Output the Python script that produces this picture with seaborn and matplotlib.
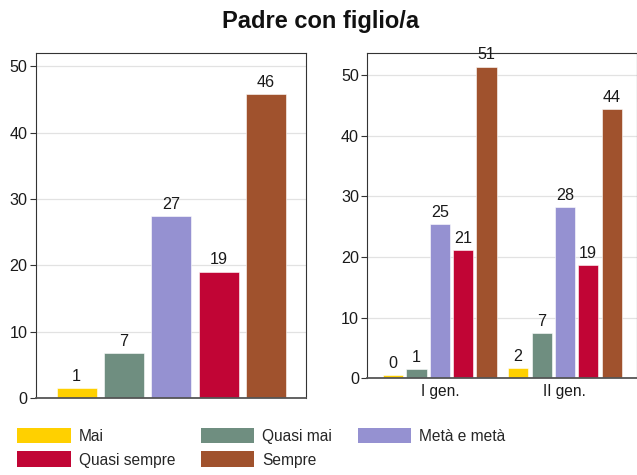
import pandas as pd
import matplotlib.pyplot as plt
import seaborn as sns
from matplotlib.patches import Patch

# ==========================================
# DATA (percentages)
# ==========================================
RESPONSES = ['Mai', 'Quasi mai', 'Metà e metà', 'Quasi sempre', 'Sempre']
TOTAL_PCT = [1.46, 6.74, 27.45, 19.05, 45.8]

GENERATIONS = ['I gen.', 'II gen.']
GEN1_PCT = [0.48, 1.45, 25.4, 21.15, 51.4]
GEN2_PCT = [1.65, 7.47, 28.2, 18.7, 44.35]

COLORS = ['#FFD000', '#6F8E80', '#9591D1', '#C10535', '#A0522D']
TITLE = 'Padre con figlio/a'

sns.set_theme(style='white')
plt.rcParams['font.family'] = ['Liberation Sans', 'DejaVu Sans']

palette = dict(zip(RESPONSES, COLORS))

total_df = pd.DataFrame({'risposta': RESPONSES, 'pct': TOTAL_PCT})
gen_df = pd.DataFrame({
    'gen': [g for g in GENERATIONS for _ in RESPONSES],
    'risposta': RESPONSES * 2,
    'pct': GEN1_PCT + GEN2_PCT,
})


def style_axes(ax):
    ax.yaxis.grid(True, color='#E2E2E2', linewidth=0.9)
    ax.set_axisbelow(True)
    for side in ['left', 'top', 'right']:
        ax.spines[side].set_visible(True)
        ax.spines[side].set_color('#333333')
        ax.spines[side].set_linewidth(0.8)
    ax.spines['bottom'].set_color('#555555')
    ax.spines['bottom'].set_linewidth(1.3)
    ax.tick_params(axis='y', left=True, length=4, width=0.8, color='#333333',
                   labelsize=11.6, pad=2, labelcolor='#1a1a1a')
    ax.tick_params(axis='x', bottom=False, length=0, labelsize=11.2, pad=4,
                   labelcolor='#1a1a1a')
    ax.set_xlabel('')
    ax.set_ylabel('')


fig = plt.figure(figsize=(6.37, 4.75), dpi=100)

# --- left panel: overall ---
ax1 = fig.add_axes([0.0565, 0.1621, 0.4239, 0.7263])
sns.barplot(data=total_df, x='risposta', y='pct', hue='risposta',
            palette=palette, saturation=1, width=0.845, legend=False, ax=ax1,
            edgecolor='white', linewidth=0.4)
for cont in ax1.containers:
    ax1.bar_label(cont, fmt='%.0f', padding=3, fontsize=11.6, color='#1a1a1a')
ax1.set_ylim(0, 52)
ax1.set_xlim(-0.86, 4.85)
ax1.set_yticks([0, 10, 20, 30, 40, 50])
ax1.set_xticks([])
style_axes(ax1)

# --- right panel: by generation ---
ax2 = fig.add_axes([0.5766, 0.2036, 0.4229, 0.6842])
sns.barplot(data=gen_df, x='gen', y='pct', hue='risposta', hue_order=RESPONSES,
            palette=palette, saturation=1, width=0.933, gap=0.14, legend=False,
            ax=ax2, edgecolor='white', linewidth=0.4)
for cont in ax2.containers:
    ax2.bar_label(cont, fmt='%.0f', padding=3, fontsize=11.6, color='#1a1a1a',
                  clip_on=False)
ax2.set_ylim(0, 53.6)
ax2.set_xlim(-0.58, 1.574)
ax2.set_yticks([0, 10, 20, 30, 40, 50])
style_axes(ax2)

fig.text(0.5025, 0.955, TITLE, ha='center', va='center',
         fontsize=17, fontweight='bold', color='#111111')

# legend fills column-wise, so reorder to get the row layout of the original
order = [0, 3, 1, 4, 2]
handles = [Patch(facecolor=COLORS[i], edgecolor='none') for i in order]
labels = [RESPONSES[i] for i in order]
fig.legend(handles, labels, loc='upper left', bbox_to_anchor=(0.027, 0.1),
           ncol=3, frameon=False, fontsize=11.2, handlelength=3.45,
           handleheight=1.18, handletextpad=0.5, columnspacing=1.65,
           labelspacing=0.5, borderpad=0, borderaxespad=0)

plt.savefig('out.png', dpi=100)
plt.close()
